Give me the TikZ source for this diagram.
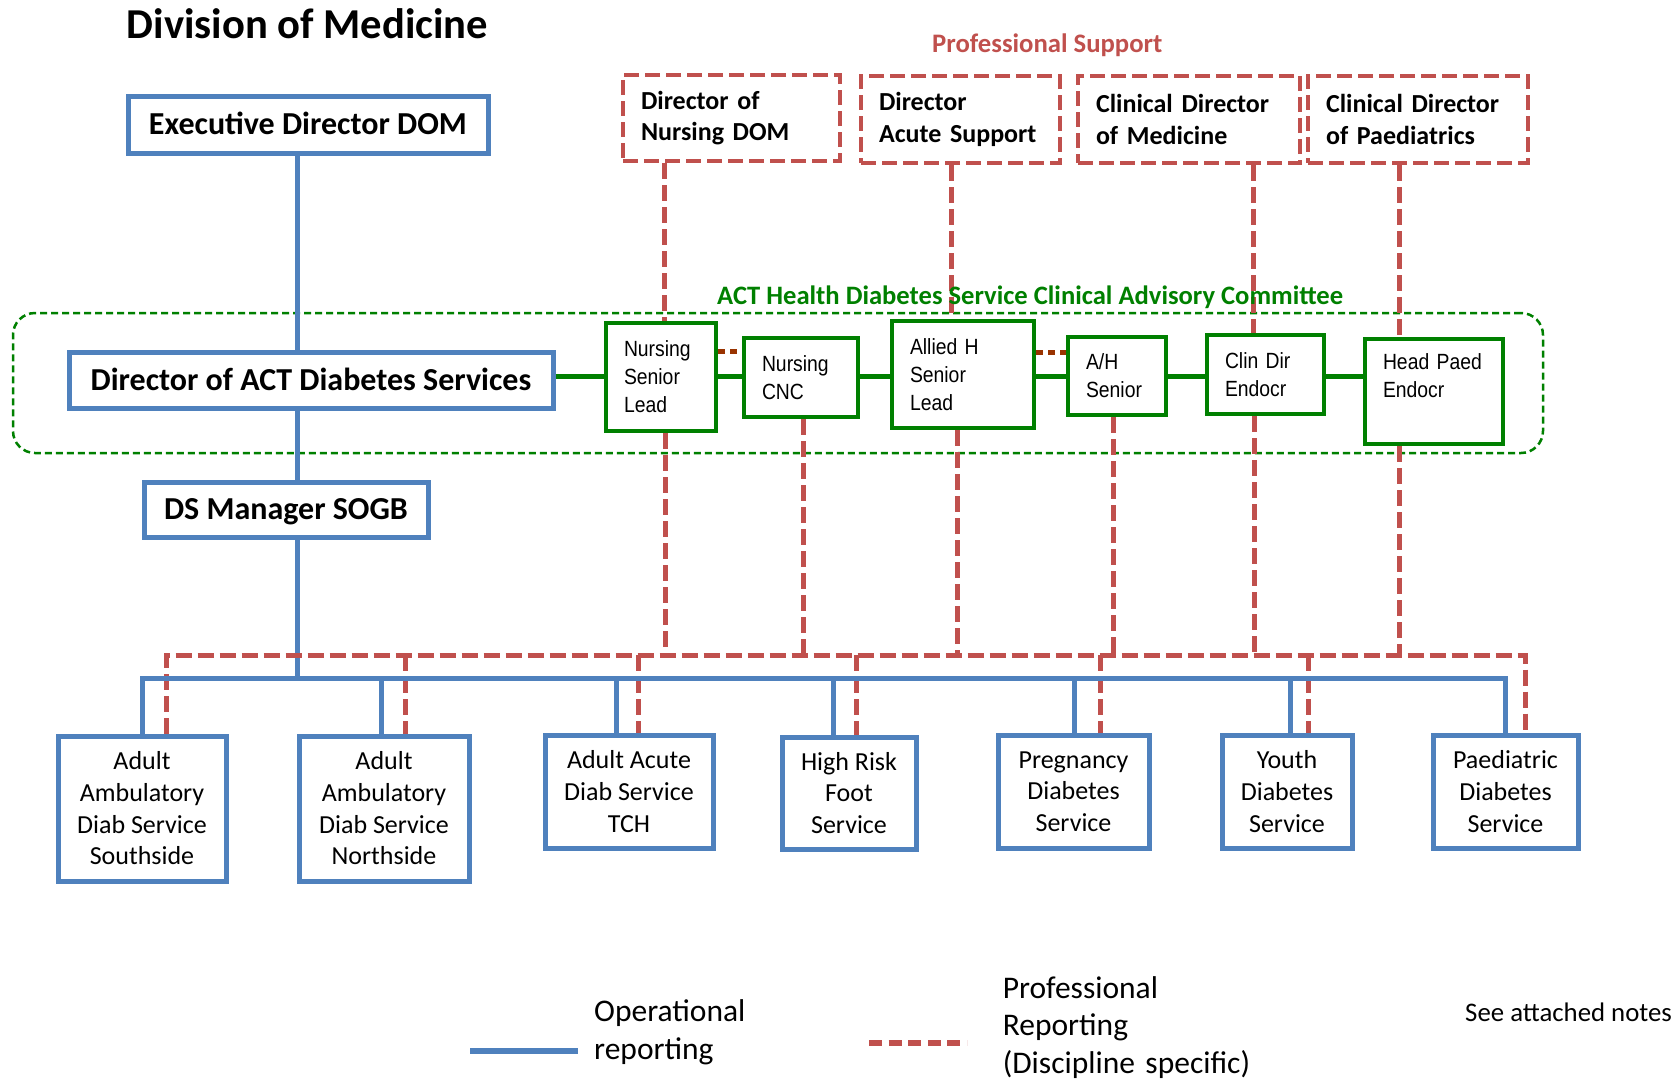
\documentclass[tikz,border=0pt]{standalone}
\usepackage{fontspec}
\setmainfont{Carlito}
\newfontfamily\arialn[FakeStretch=0.88]{Liberation Sans}
\usetikzlibrary{calc}
\definecolor{opblue}{RGB}{79,129,189}
\definecolor{prored}{RGB}{192,80,77}
\definecolor{cacgreen}{RGB}{0,128,0}
\definecolor{dotbrown}{RGB}{153,51,0}
\tikzset{
  headbox/.style={draw=opblue, fill=white, line width=5pt, inner sep=0pt, text height=20.6pt, text depth=0pt, font=\bfseries\fontsize{32}{39}\selectfont},
  unitbox/.style={draw=opblue, fill=white, line width=5pt, inner sep=0pt, align=center, font=\fontsize{26}{31.7}\selectfont},
  probox/.style={draw=prored, fill=white, line width=4.5pt, dash pattern=on 15pt off 6pt, inner xsep=18pt, inner ysep=0pt, align=left, font=\bfseries\fontsize{26}{31.7}\selectfont},
  cacbox/.style={draw=cacgreen, fill=white, line width=4.5pt, inner xsep=18pt, inner ysep=0pt, align=left, font=\arialn\fontsize{22}{28}\selectfont},
  cacframe/.style={draw=cacgreen, line width=2.5pt, dash pattern=on 7pt off 4pt, rounded corners=22pt},
  opline/.style={draw=opblue, line width=5pt},
  proline/.style={draw=prored, line width=5pt, dash pattern=on 16pt off 6pt},
  cacline/.style={draw=cacgreen, line width=5pt},
  dotline/.style={draw=dotbrown, line width=5pt, dash pattern=on 7pt off 5pt},
  legtext/.style={anchor=base west, inner sep=0pt, align=left, text width=320pt, font=\fontsize{31.5}{37.5}\selectfont},
}
\begin{document}
\begin{tikzpicture}[x=1pt,y=1pt,yscale=-1,xscale=1]
\useasboundingbox (0,0) rectangle (1679,1082);

%Shape: Rounded Rectangle [committee]
\node[cacframe, minimum width=1530pt, minimum height=140pt] (cac) at (778,383) {};

% Text Node
\node[anchor=base west, inner sep=0pt, font=\bfseries\fontsize{42.6}{51}\selectfont] (title) at (126.5,38.2) {Division of Medicine};
% Text Node
\node[anchor=base west, inner sep=0pt, text=prored, font=\bfseries\fontsize{26.7}{32}\selectfont] (protitle) at (932,52.7) {Professional Support};

%Coordinates for the connectors
\coordinate (opv) at (297,0);
\coordinate (opbus) at (0,678);
\coordinate (probus) at (0,655);
\coordinate (cacy) at (0,376);
\coordinate (ob1) at (142,0);
\coordinate (ob2) at (381,0);
\coordinate (ob3) at (616,0);
\coordinate (ob4) at (833,0);
\coordinate (ob5) at (1074,0);
\coordinate (ob6) at (1290,0);
\coordinate (ob7) at (1505,0);
\coordinate (rb1) at (166,0);
\coordinate (rb2) at (405,0);
\coordinate (rb3) at (638,0);
\coordinate (rb4) at (856.5,0);
\coordinate (rb5) at (1100,0);
\coordinate (rb6) at (1308,0);
\coordinate (rb7) at (1525,0);

%Shape: Rectangle [operational]
\node[headbox, minimum width=360pt, minimum height=57pt] (exec) at (308,124.5) {Executive Director DOM};
\node[headbox, minimum width=484pt, minimum height=56pt] (dsa) at (311,380) {Director of ACT Diabetes Services};
\node[headbox, minimum width=284pt, minimum height=55pt] (dsm) at (286,509.5) {DS Manager SOGB};

%Shape: Rectangle [professional support]
\node[probox, minimum width=217pt, minimum height=86pt, text width=181pt] (nurdom) at (731.5,118) {Director of\\Nursing~DOM};
\node[probox, minimum width=199pt, minimum height=87pt, text width=163pt] (acute) at (960.5,119.5) {Director\\Acute~Support};
\node[probox, minimum width=222pt, minimum height=87pt, text width=186pt] (clinmed) at (1189,119.5) {Clinical~Director\\of~Medicine};
\node[probox, minimum width=220pt, minimum height=87pt, text width=184pt] (clinpaed) at (1418,119.5) {Clinical~Director\\of~Paediatrics};

%Straight Lines [professional, top]
\draw[proline] (nurdom.south -| 664,0) -- (664,321);
\draw[proline] (acute.south -| 951,0) -- (951,319);
\draw[proline] (clinmed.south -| 1253,0) -- (1253,333);
\draw[proline] (clinpaed.south -| 1399,0) -- (1399,337);

%Shape: Rectangle [committee members]
\node[cacbox, minimum width=110pt, minimum height=108pt, text width=74pt] (nsl) at (661,377) {Nursing\\Senior\\Lead};
\node[cacbox, minimum width=114pt, minimum height=79pt, text width=78pt] (cnc) at (801,377.5) {Nursing\\CNC};
\node[cacbox, minimum width=142pt, minimum height=107pt, text width=106pt] (ahl) at (963,374.5) {Allied~H\\Senior\\Lead};
\node[cacbox, minimum width=98pt, minimum height=78pt, text width=62pt] (ahs) at (1117,376) {A/H\\Senior};
\node[cacbox, minimum width=117pt, minimum height=79pt, text width=81pt] (cde) at (1265.5,374.5) {Clin~Dir\\Endocr};
\node[cacbox, minimum width=138pt, minimum height=105pt, text width=102pt, text depth=60pt] (hpe) at (1434,391.5) {Head~Paed\\Endocr};

%Straight Lines [committee]
\draw[cacline] (dsa.east |- cacy) -- (nsl.west |- cacy);
\draw[cacline] (nsl.east |- cacy) -- (cnc.west |- cacy);
\draw[cacline] (cnc.east |- cacy) -- (ahl.west |- cacy);
\draw[cacline] (ahl.east |- cacy) -- (ahs.west |- cacy);
\draw[cacline] (ahs.east |- cacy) -- (cde.west |- cacy);
\draw[cacline] (cde.east |- cacy) -- (hpe.west |- cacy);
\draw[dotline] (nsl.east |- 0,351) -- (cnc.west |- 0,351);
\draw[dotline] (ahl.east |- 0,352) -- (ahs.west |- 0,352);

%Straight Lines [operational]
\draw[opline] (exec.south -| opv) -- (dsa.north -| opv);
\draw[opline] (dsa.south -| opv) -- (dsm.north -| opv);
\draw[opline] (dsm.south -| opv) -- (opv |- opbus);

%Shape: Rectangle [services]
\node[unitbox, minimum width=168pt, minimum height=145pt] (b1) at (142,808.5) {Adult\\Ambulatory\\Diab Service\\Southside};
\node[unitbox, minimum width=170pt, minimum height=145pt] (b2) at (384,808.5) {Adult\\Ambulatory\\Diab Service\\Northside};
\node[unitbox, minimum width=168pt, minimum height=113pt] (b3) at (629,791.5) {Adult Acute\\Diab Service\\TCH};
\node[unitbox, minimum width=134pt, minimum height=112pt] (b4) at (849,793) {High Risk\\Foot\\Service};
\node[unitbox, minimum width=151pt, minimum height=113pt] (b5) at (1073.5,791.5) {Pregnancy\\Diabetes\\Service};
\node[unitbox, minimum width=130pt, minimum height=113pt] (b6) at (1287,791.5) {Youth\\Diabetes\\Service};
\node[unitbox, minimum width=145pt, minimum height=113pt] (b7) at (1505.5,791.5) {Paediatric\\Diabetes\\Service};

%Straight Lines [professional, down to services]
\draw[proline] (nsl.south -| 665,0) -- (665,655);
\draw[proline] (cnc.south -| 803,0) -- (803,655);
\draw[proline] (ahl.south -| 957,0) -- (957,655);
\draw[proline] (ahs.south -| 1113.6,0) -- (1113.6,655);
\draw[proline] (cde.south -| 1254.5,0) -- (1254.5,655);
\draw[proline] (hpe.south -| 1399,0) -- (1399,655);
\draw[proline] (b1.north -| rb1) -- (rb1 |- probus) -- (rb7 |- probus) -- (b7.north -| rb7);
\draw[proline] (rb2 |- probus) -- (b2.north -| rb2);
\draw[proline] (rb3 |- probus) -- (b3.north -| rb3);
\draw[proline] (rb4 |- probus) -- (b4.north -| rb4);
\draw[proline] (rb5 |- probus) -- (b5.north -| rb5);
\draw[proline] (rb6 |- probus) -- (b6.north -| rb6);

%Straight Lines [operational bus]
\draw[opline] (b1.north -| ob1) -- (ob1 |- opbus) -- (ob7 |- opbus) -- (b7.north -| ob7);
\draw[opline] (ob2 |- opbus) -- (b2.north -| ob2);
\draw[opline] (ob3 |- opbus) -- (b3.north -| ob3);
\draw[opline] (ob4 |- opbus) -- (b4.north -| ob4);
\draw[opline] (ob5 |- opbus) -- (b5.north -| ob5);
\draw[opline] (ob6 |- opbus) -- (b6.north -| ob6);

% Text Node
\node[anchor=base west, inner sep=0pt, text=cacgreen, font=\bfseries\fontsize{26.6}{32}\selectfont] (cactitle) at (717,304) {ACT Health Diabetes Service Clinical Advisory Committee};

%Legend
\coordinate (legopA) at (470,1051);
\coordinate (legopB) at (578,1051);
\coordinate (legprA) at (869,1043);
\coordinate (legprB) at (967,1043);
\draw[opline, line width=6pt] (legopA) -- (legopB);
\draw[proline, line width=6pt, dash pattern=on 13pt off 6.6pt] (legprA) -- (legprB);
% Text Node
\node[legtext] (legop) at (594,1021.7) {Operational\\reporting};
% Text Node
\node[legtext] (legpr) at (1002.6,998) {Professional\\Reporting\\(Discipline specific)};
% Text Node
\node[anchor=base west, inner sep=0pt, font=\fontsize{26.8}{32}\selectfont] (notes) at (1465,1021.7) {See attached notes};

\end{tikzpicture}
\end{document}
